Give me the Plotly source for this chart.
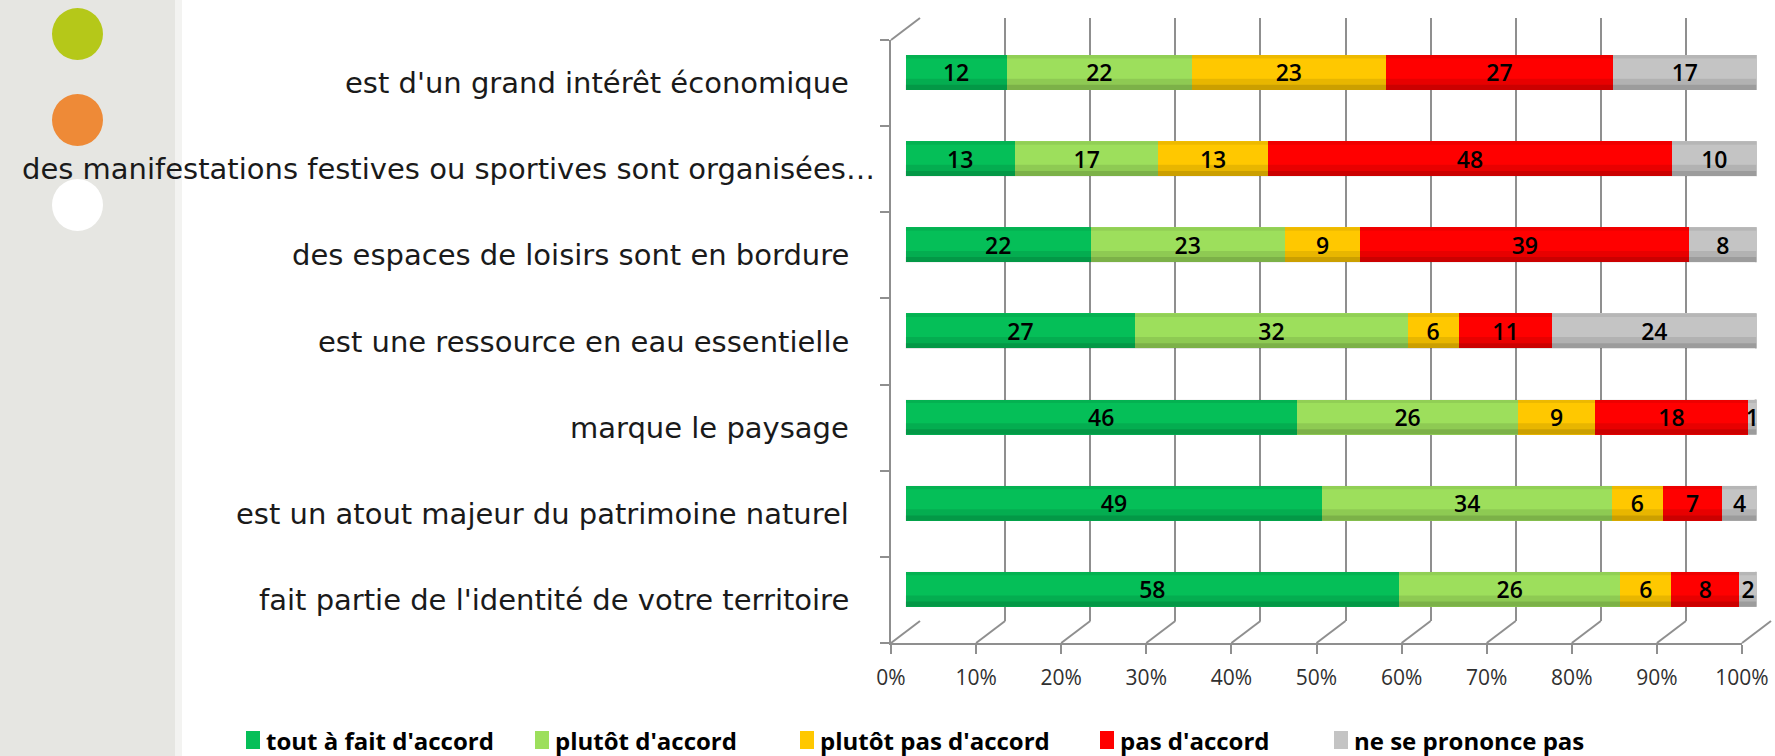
import plotly.graph_objects as go

# ---------------- data ----------------
categories = [
    "est d'un grand intérêt économique",
    "des manifestations festives ou sportives sont organisées…",
    "des espaces de loisirs sont en bordure",
    "est une ressource en eau essentielle",
    "marque le paysage",
    "est un atout majeur du patrimoine naturel",
    "fait partie de l'identité de votre territoire",
]
series_names = ["tout à fait d'accord", "plutôt d'accord", "plutôt pas d'accord",
                "pas d'accord", "ne se prononce pas"]
tout_a_fait = [12, 13, 22, 27, 46, 49, 58]
plutot = [22, 17, 23, 32, 26, 34, 26]
plutot_pas = [23, 13, 9, 6, 9, 6, 6]
pas = [27, 48, 39, 11, 18, 7, 8]
nspp = [17, 10, 8, 24, 1, 4, 2]
series_values = [tout_a_fait, plutot, plutot_pas, pas, nspp]
series_colors = ["#05bf58", "#9ddf5c", "#ffc800", "#ff0000", "#c4c4c4"]
tick_vals = [0, 10, 20, 30, 40, 50, 60, 70, 80, 90, 100]
tick_text = [f"{v}%" for v in tick_vals]

# ---------------- layout constants (pixels) ----------------
W, H = 1775, 756
def px(x):
    return x / W
def py(y):
    return 1 - y / H

FX0, FX1, FY = 891, 1742, 643        # front floor
DX, DY = 29, 22                       # depth offset
FTOP = 40                             # top of front-left axis
BTOP = 18                             # top of back wall
BAR_X0, BAR_X1 = FX0 + DX / 2, FX1 + DX / 2
n = len(categories)
bar_c_top = 72.5
spacing = (FY - FTOP) / n
bar_top_px = bar_c_top - spacing / 2
bar_bot_px = bar_top_px + spacing * n
BAR_FRAC = 35 / spacing
LEGEND_SQ_X = [246, 535, 800, 1100, 1334]
LEGEND_Y = 740
LABEL_RIGHT = 851
LONG_LABEL_RIGHT = 877

FONT = "Open Sans"
LABEL_FONT = "DejaVu Sans"
fig = go.Figure()

# helper trace for the back-wall subplot (x/y), drawn first so it stays behind
fig.add_trace(go.Scatter(x=[0], y=[0], xaxis="x", yaxis="y", mode="markers",
                         marker=dict(opacity=0), showlegend=False, hoverinfo="skip"))

for name, vals, col in zip(series_names, series_values, series_colors):
    fig.add_trace(go.Bar(
        y=categories, x=vals, name=name, orientation="h",
        marker=dict(color=col, line=dict(width=0)),
        text=vals, texttemplate="%{text}", textposition="inside", textangle=0,
        insidetextanchor="middle", constraintext="none",
        textfont=dict(family=FONT, size=23, color="black", weight=600),
        xaxis="x2", yaxis="y2", hoverinfo="skip", showlegend=False,
    ))

fig.add_trace(go.Scatter(x=[0], y=[0], xaxis="x3", yaxis="y3", mode="markers",
                         marker=dict(opacity=0), showlegend=False, hoverinfo="skip"))

grid_col = "#8f8f8f"
fig.update_layout(
    width=W, height=H, autosize=False,
    margin=dict(l=0, r=0, t=0, b=0, pad=0, autoexpand=False),
    paper_bgcolor="white", plot_bgcolor="rgba(0,0,0,0)",
    barmode="stack", barnorm="percent", bargap=1 - BAR_FRAC,
    uniformtext=dict(minsize=23, mode="show"),
    showlegend=False,
    # back wall gridlines
    xaxis=dict(domain=[px(FX0 + DX), px(FX1 + DX)], range=[0, 100], anchor="y",
               showgrid=True, gridcolor=grid_col, gridwidth=2, tickvals=tick_vals,
               showticklabels=False, zeroline=False, showline=False, ticks="",
               automargin=False),
    yaxis=dict(domain=[py(FY - DY), py(BTOP)], range=[0, 1], anchor="x",
               visible=False, showgrid=False, automargin=False),
    # bars
    xaxis2=dict(domain=[px(BAR_X0), px(BAR_X1)], range=[0, 100], visible=False,
                anchor="y2", automargin=False),
    yaxis2=dict(domain=[py(bar_bot_px), py(bar_top_px)], range=[n - 0.5, -0.5],
                visible=False, type="category", categoryorder="array",
                categoryarray=categories, anchor="x2", automargin=False),
    # front floor axis + front-left axis
    xaxis3=dict(domain=[px(FX0), px(FX1)], range=[0, 100], anchor="y3",
                showgrid=False, zeroline=False, showline=True, linecolor=grid_col,
                linewidth=2, ticks="outside", ticklen=9, tickcolor=grid_col, tickwidth=2,
                tickvals=tick_vals, ticktext=tick_text, ticklabelstandoff=6,
                tickfont=dict(family=FONT, size=21, color="#303030"), automargin=False),
    yaxis3=dict(domain=[py(FY), py(FTOP)], range=[n, 0], anchor="x3",
                showgrid=False, zeroline=False, showline=True, linecolor=grid_col,
                linewidth=2, ticks="outside", ticklen=9, tickcolor=grid_col, tickwidth=2,
                tickvals=list(range(n + 1)), showticklabels=False, automargin=False),
)

shapes = []
# left decorative panel and dots
shapes.append(dict(type="rect", xref="paper", yref="paper", x0=0, x1=px(175), y0=0, y1=1,
                   fillcolor="#e6e6e2", line=dict(width=0), layer="below"))
shapes.append(dict(type="rect", xref="paper", yref="paper", x0=px(175), x1=px(182), y0=0, y1=1,
                   fillcolor="#f3f3f1", line=dict(width=0), layer="below"))
for cy, col in [(34, "#b5c819"), (120, "#ee8a37"), (205, "#ffffff")]:
    shapes.append(dict(type="circle", xref="paper", yref="paper",
                       x0=px(52), x1=px(103), y0=py(cy + 26), y1=py(cy - 26),
                       fillcolor=col, line=dict(width=0), layer="below"))
# floor diagonals
for v in tick_vals:
    fx = FX0 + (FX1 - FX0) * v / 100
    shapes.append(dict(type="line", xref="paper", yref="paper",
                       x0=px(fx), y0=py(FY), x1=px(fx + DX), y1=py(FY - DY),
                       line=dict(color=grid_col, width=2), layer="below"))
# top-left diagonal
shapes.append(dict(type="line", xref="paper", yref="paper",
                   x0=px(FX0), y0=py(FTOP), x1=px(FX0 + DX), y1=py(BTOP),
                   line=dict(color=grid_col, width=2), layer="below"))
# cylinder shading and end caps
hw = BAR_FRAC / 2
for i in range(n):
    shapes.append(dict(type="rect", xref="x2", yref="y2", x0=0, x1=100,
                       y0=i + hw * 0.35, y1=i + hw, fillcolor="rgba(0,0,0,0.09)",
                       line=dict(width=0), layer="above"))
    shapes.append(dict(type="rect", xref="x2", yref="y2", x0=0, x1=100,
                       y0=i + hw * 0.7, y1=i + hw, fillcolor="rgba(0,0,0,0.12)",
                       line=dict(width=0), layer="above"))
    shapes.append(dict(type="rect", xref="x2", yref="y2", x0=0, x1=100,
                       y0=i - hw, y1=i - hw * 0.8, fillcolor="rgba(0,0,0,0.07)",
                       line=dict(width=0), layer="above"))
    shapes.append(dict(type="circle", xref="x2", yref="y2", x0=100 - 1.05, x1=100 + 1.05,
                       y0=i - hw, y1=i + hw, fillcolor="#8a8a8a",
                       line=dict(width=0), layer="below"))
# legend squares
for xs, col in zip(LEGEND_SQ_X, series_colors):
    shapes.append(dict(type="rect", xref="paper", yref="paper",
                       x0=px(xs), x1=px(xs + 14), y0=py(LEGEND_Y + 9), y1=py(LEGEND_Y - 9),
                       fillcolor=col, line=dict(width=0)))
fig.update_layout(shapes=shapes)

annotations = []
# category labels
for i, lab in enumerate(categories):
    right = LONG_LABEL_RIGHT if lab.endswith("…") else LABEL_RIGHT
    annotations.append(dict(
        text=lab, xref="paper", yref="y3", y=i + 0.5, x=px(right),
        xanchor="right", yanchor="middle",
        showarrow=False, font=dict(family=LABEL_FONT, size=29, color="#1a1a1a"),
    ))
# legend labels
for xs, name in zip(LEGEND_SQ_X, series_names):
    annotations.append(dict(
        text=name, xref="paper", yref="paper", x=px(xs + 18), y=py(LEGEND_Y),
        xanchor="left", yanchor="middle", showarrow=False,
        font=dict(family=FONT, size=24, color="black", weight="bold"),
    ))
fig.update_layout(annotations=annotations)

fig.write_html("out.html", config={"displayModeBar": False, "responsive": False},
               post_script="document.body.style.margin='0';")
